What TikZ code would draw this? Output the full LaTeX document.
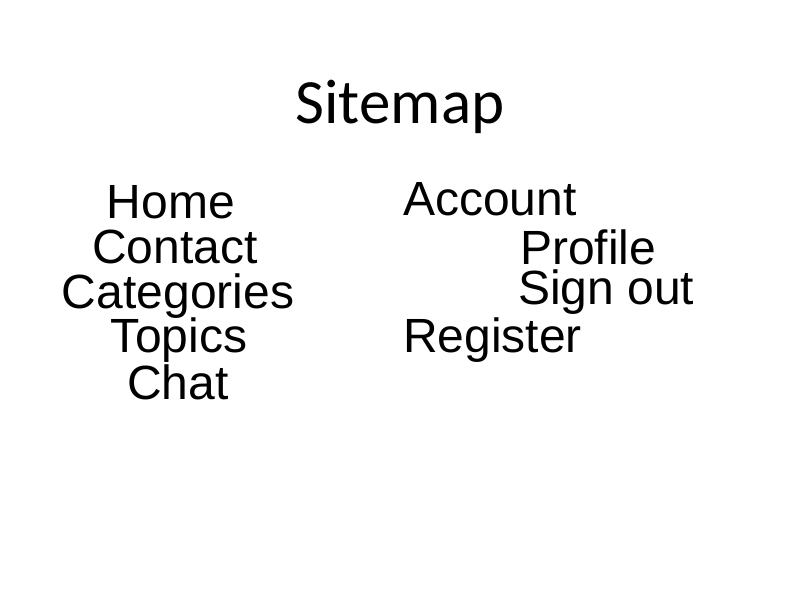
\documentclass[tikz,border=0pt]{standalone}
\usepackage{fontspec}
\setmainfont{Liberation Sans}
\newfontfamily\titlefont{Carlito}
\usepackage{tikz}

\begin{document}
\begin{tikzpicture}[x=1pt,y=-1pt,
		item/.style={inner sep=0pt,font=\fontsize{48}{48}\selectfont},
		pagetitle/.style={inner sep=0pt,font=\titlefont\fontsize{63}{63}\selectfont}]
			\useasboundingbox (0,0) rectangle (800,600);
			\node[pagetitle,anchor=base] (title) at (400,123) {Sitemap};
			\node[item,anchor=base] (home) at (171,218) {Home};
			\node[item,anchor=base] (contact) at (175,263) {Contact};
			\node[item,anchor=base] (categories) at (178,308) {Categories};
			\node[item,anchor=base] (topics) at (179,352) {Topics};
			\node[item,anchor=base] (chat) at (178,399) {Chat};
			\node[item,anchor=base west] (account) at (403,215) {Account};
			\node[item,anchor=base west] (profile) at (520,264) {Profile};
			\node[item,anchor=base west] (signout) at (518,304) {Sign out};
			\node[item,anchor=base west] (register) at (403,352) {Register};
		\end{tikzpicture}
\end{document}
